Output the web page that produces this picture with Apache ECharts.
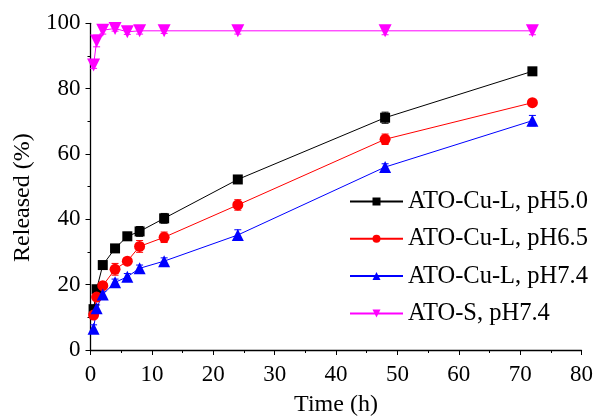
<!DOCTYPE html>
<html>
<head>
<meta charset="utf-8">
<script src="https://cdn.jsdelivr.net/npm/echarts@6/dist/echarts.min.js"></script>
<style>
  html, body { margin: 0; padding: 0; background: #fff; }
  #chart { width: 595px; height: 418px; }
</style>
</head>
<body>
<div id="chart"></div>
<script>
// 时间点 (h)
const timePoints = [0.5, 1, 2, 4, 6, 8, 12, 24, 48, 72];

// 系列名称
const seriesNames = ['ATO-Cu-L, pH5.0', 'ATO-Cu-L, pH6.5', 'ATO-Cu-L, pH7.4', 'ATO-S, pH7.4'];

// 释放率 (%)
const releasePH50 = [12.5, 18.6, 26.0, 31.1, 34.8, 36.3, 40.3, 52.2, 71.1, 85.3];
const releasePH65 = [10.7, 16.2, 19.7, 24.7, 27.2, 31.7, 34.5, 44.4, 64.5, 75.7];
const releasePH74 = [6.5, 12.8, 17.0, 20.7, 22.4, 25.0, 27.2, 35.2, 56.0, 70.2];
const releaseS74 = [87.2, 94.6, 97.9, 98.4, 97.4, 97.7, 97.7, 97.7, 97.7, 97.7];

// 误差 (±)
const errPH50 = [0.5, 0.8, 0.8, 0.8, 1.2, 1.5, 1.5, 0.8, 1.7, 0.8];
const errPH65 = [0.8, 1.0, 1.0, 1.8, 1.0, 1.8, 1.6, 1.6, 1.6, 0.6];
const errPH74 = [1.2, 1.0, 1.0, 1.0, 1.0, 1.0, 1.0, 1.6, 1.0, 1.6];
const errS74 = [1.0, 1.8, 1.2, 0.8, 0.8, 1.0, 0.8, 1.0, 1.2, 1.2];

// 坐标轴刻度
const xTicks = { min: 0, max: 80, interval: 10 };
const yTicks = { min: 0, max: 100, interval: 20 };

const fontFamily = "'Liberation Serif', 'Times New Roman', serif";

const chart = echarts.init(document.getElementById('chart'), null, { renderer: 'canvas' });

const toPoints = (vals) => timePoints.map((t, i) => [t, vals[i]]);
const toErr = (vals, errs) => timePoints.map((t, i) => [t, vals[i] - errs[i], vals[i] + errs[i]]);

// 误差线
const renderError = (params, api) => {
    const x = api.value(0);
    const top = api.coord([x, api.value(2)]);
    const bot = api.coord([x, api.value(1)]);
    const w = 3.5;
    const style = { stroke: api.visual('color'), lineWidth: 1 };
    return {
        type: 'group',
        children: [
            { type: 'line', shape: { x1: top[0], y1: top[1], x2: bot[0], y2: bot[1] }, style },
            { type: 'line', shape: { x1: top[0] - w, y1: top[1], x2: top[0] + w, y2: top[1] }, style },
            { type: 'line', shape: { x1: bot[0] - w, y1: bot[1], x2: bot[0] + w, y2: bot[1] }, style }
        ]
    };
};

const styles = [
    { color: '#000000', symbol: 'rect', size: 10, rotate: 0 },
    { color: '#ff0000', symbol: 'circle', size: 11, rotate: 0 },
    { color: '#0000ff', symbol: 'triangle', size: 12, rotate: 0 },
    { color: '#ff00ff', symbol: 'triangle', size: 13, rotate: 180 }
];
const values = [releasePH50, releasePH65, releasePH74, releaseS74];
const errors = [errPH50, errPH65, errPH74, errS74];

const series = [];
values.forEach((vals, k) => {
    series.push({
        type: 'custom',
        renderItem: renderError,
        data: toErr(vals, errors[k]),
        itemStyle: { color: styles[k].color },
        z: 1,
        silent: true
    });
});
values.forEach((vals, k) => {
    series.push({
        name: seriesNames[k],
        type: 'line',
        data: toPoints(vals),
        symbol: styles[k].symbol,
        symbolSize: styles[k].size,
        symbolRotate: styles[k].rotate,
        showAllSymbol: true,
        lineStyle: { color: styles[k].color, width: 1 },
        itemStyle: { color: styles[k].color },
        z: 3
    });
});

const option = {
    animation: false,
    backgroundColor: '#fff',
    grid: { left: 90.5, right: 13.5, top: 23.3, bottom: 68, outerBoundsMode: 'none' },
    legend: {
        orient: 'vertical',
        left: 349,
        top: 189,
        padding: 0,
        itemWidth: 53,
        itemHeight: 10,
        itemGap: 12.3,
        data: seriesNames,
        textStyle: { fontFamily, fontSize: 24.5, color: '#000' }
    },
    xAxis: {
        type: 'value',
        min: xTicks.min,
        max: xTicks.max,
        interval: xTicks.interval,
        name: 'Time (h)',
        nameLocation: 'middle',
        nameGap: 43,
        nameTextStyle: { fontFamily, fontSize: 24, color: '#000' },
        axisLine: { show: true, lineStyle: { color: '#000', width: 1.3 } },
        axisTick: { show: true, length: 5, lineStyle: { color: '#000', width: 1 } },
        minorTick: { show: true, splitNumber: 2, length: 3, lineStyle: { color: '#000', width: 1 } },
        axisLabel: { fontFamily, fontSize: 23, color: '#000', margin: 13 },
        splitLine: { show: false }
    },
    yAxis: {
        type: 'value',
        min: yTicks.min,
        max: yTicks.max,
        interval: yTicks.interval,
        name: 'Released (%)',
        nameLocation: 'middle',
        nameGap: 56,
        nameTextStyle: { fontFamily, fontSize: 24, color: '#000', padding: [0, 22, 0, 0] },
        axisLine: { show: true, lineStyle: { color: '#000', width: 1.3 } },
        axisTick: { show: true, length: 5, lineStyle: { color: '#000', width: 1 } },
        minorTick: { show: true, splitNumber: 2, length: 3, lineStyle: { color: '#000', width: 1 } },
        axisLabel: { fontFamily, fontSize: 23, color: '#000', margin: 10 },
        splitLine: { show: false }
    },
    series
};

chart.setOption(option);
</script>
</body>
</html>
